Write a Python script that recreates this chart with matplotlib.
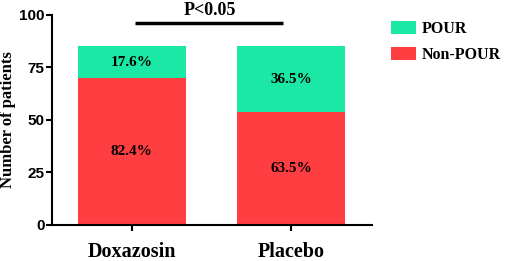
import matplotlib
matplotlib.use("Agg")
import matplotlib.pyplot as plt

categories = ["Doxazosin", "Placebo"]
non_pour = [70, 54]
pour = [15, 31]
non_pour_pct = ["82.4%", "63.5%"]
pour_pct = ["17.6%", "36.5%"]
yticks = [0, 25, 50, 75, 100]

green = "#1CE8A6"
red = "#FF3E42"
serif = "Liberation Serif"
sans = "Liberation Sans"

fig = plt.figure(figsize=(5.05, 2.61), dpi=100)
ax = fig.add_axes([0.102, 0.138, 0.634, 0.8046])

x = list(range(len(categories)))
b1 = ax.bar(x, non_pour, width=0.68, color=red, label="Non-POUR")
b2 = ax.bar(x, pour, width=0.68, bottom=non_pour, color=green, label="POUR")

for i in x:
    ax.text(i, non_pour[i] / 2, non_pour_pct[i], ha="center", va="center",
            fontfamily=serif, fontweight="bold", fontsize=11)
    ax.text(i, non_pour[i] + pour[i] / 2, pour_pct[i], ha="center", va="center",
            fontfamily=serif, fontweight="bold", fontsize=11)

ax.set_xlim(-0.505, 1.508)
ax.set_ylim(0, 100)
ax.set_yticks(yticks)
ax.set_yticklabels([str(t) for t in yticks], fontfamily=sans, fontweight="bold", fontsize=11)
ax.set_xticks(x)
ax.set_xticklabels(categories, fontfamily=serif, fontweight="bold", fontsize=14.5)
ax.tick_params(axis="both", width=1.5, length=4)
ax.tick_params(axis="x", pad=8)
ax.tick_params(axis="y", pad=1)
for s in ["top", "right"]:
    ax.spines[s].set_visible(False)
for s in ["left", "bottom"]:
    ax.spines[s].set_linewidth(1.5)

ax.set_ylabel("Number of patients", fontfamily=serif, fontweight="bold", fontsize=12)
ax.yaxis.set_label_coords(-0.112, 0.5)

# significance bar
ax.plot([0.02, 0.95], [96.3, 96.3], color="black", lw=2.5, clip_on=False, solid_capstyle="butt")
ax.text(0.49, 98.3, "P<0.05", ha="center", va="bottom", fontfamily=serif,
        fontweight="bold", fontsize=13, clip_on=False)

leg = fig.legend(handles=[b2, b1], labels=["POUR", "Non-POUR"], loc="upper left",
                 bbox_to_anchor=(0.758, 0.95), frameon=False, borderpad=0,
                 handlelength=1.56, handleheight=0.875, handletextpad=0.38,
                 labelspacing=0.6, prop={"family": serif, "weight": "bold", "size": 11.5})

fig.savefig("out.png", dpi=100)
